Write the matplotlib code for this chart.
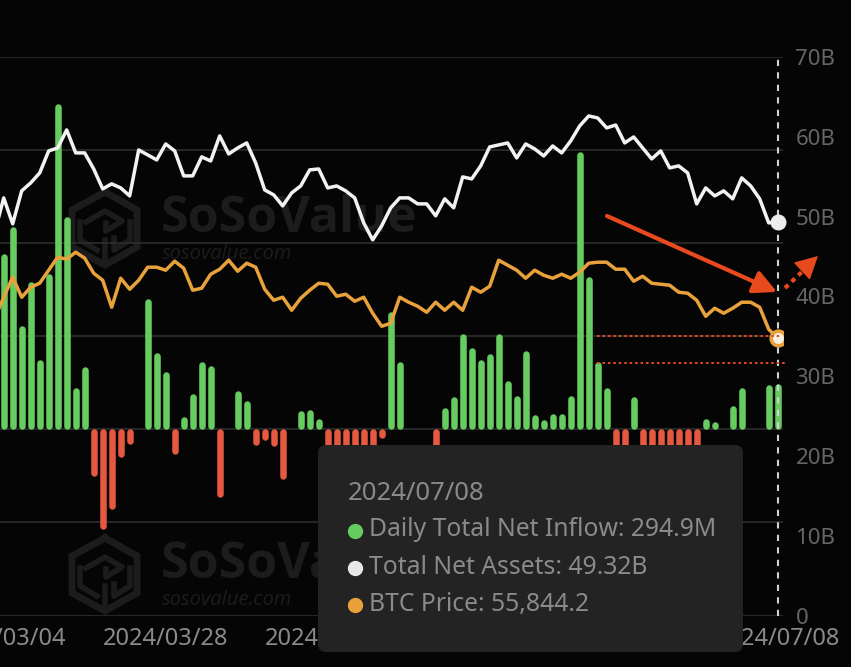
"""
Spot ETF flow chart: daily net inflow bars, total net assets and BTC price lines.
Saves the figure as out.png.
"""

import matplotlib

matplotlib.use("Agg")

import matplotlib.pyplot as plt
import numpy as np
from matplotlib.patches import FancyBboxPatch


# 1. Chart values

daily_inflow_m = [
    1129, 1303, 664, 948, 445, 1000, 2096, 1367, 264, 400,
    -303, -645, -516, -179, -97, 39, 838, 490, 368, -161,
    77, 226, 432, 406, -439, -32, 245, 181, -103, -71,
    -110, -323, -10, 116, 123, 65, -130, -130, -130, -130,
    -130, -130, -58, 755, 432, -22, 26, -16, -130, 135,
    206, 613, 522, 445, 484, 613, 310, 213, 503, 90,
    58, 97, 97, 213, 1787, 980, 432, 264, -130, -130,
    206, -130, -130, -130, -130, -130, -130, -130, 65, 45,
    26, 148, 264, -23, -32, 284, 294.9,
]

total_net_assets_b = [
    47.96, 52.34, 49.09, 53.22, 54.22, 55.47, 58.23, 58.60, 60.86, 57.98,
    57.98, 55.97, 53.47, 54.10, 53.59, 52.59, 58.35, 57.73, 57.10, 59.10,
    58.23, 55.10, 55.10, 57.48, 56.97, 60.11, 57.85, 58.60, 59.23, 56.72,
    53.34, 52.72, 51.34, 52.97, 53.84, 55.85, 55.97, 53.59, 53.84, 53.22,
    52.34, 49.21, 47.08, 48.84, 51.09, 52.34, 52.34, 51.59, 51.59, 50.09,
    52.22, 51.09, 54.97, 54.72, 56.35, 58.73, 58.98, 59.23, 57.35, 59.10,
    58.48, 57.60, 58.85, 57.98, 59.48, 61.36, 62.61, 62.36, 61.11, 61.48,
    59.23, 59.98, 58.60, 57.23, 58.23, 56.10, 56.35, 55.47, 51.59, 53.59,
    52.59, 53.22, 52.22, 54.85, 53.84, 52.22, 49.21, 49.32,
]

btc_price = [
    59875, 64109, 68141, 64109, 66125, 66931, 69552, 72173, 71770, 73181,
    71971, 68947, 67536, 62093, 67939, 65722, 67536, 70157, 70157, 69552,
    71366, 69955, 65520, 65923, 68746, 69754, 71568, 69350, 70963, 70157,
    65722, 63504, 64109, 61488, 63907, 65520, 66931, 66730, 64310, 64714,
    63302, 64109, 60883, 58262, 58867, 64109, 63101, 62294, 61085, 63101,
    61488, 63101, 61488, 66125, 65117, 66326, 71568, 70560, 69552, 67939,
    69552, 68544, 67939, 68746, 67939, 69149, 70963, 71165, 71165, 69754,
    69754, 67334, 68342, 66931, 66730, 66528, 65117, 64915, 63504, 60278,
    61891, 60883, 61891, 63101, 63101, 62093, 57658, 55844,
]

date_ticks = [0, 18, 36, 54, 72, 86]
date_labels = [
    "2024/03/04", "2024/03/28", "2024/04/23",
    "2024/05/17", "2024/06/12", "2024/07/08",
]

asset_ticks = [0, 10, 20, 30, 40, 50, 60, 70]
asset_labels = ["0", "10B", "20B", "30B", "40B", "50B", "60B", "70B"]
inflow_grid = [-1200, -600, 0, 600, 1200, 1800, 2400]

tooltip_date = "2024/07/08"
tooltip_rows = [
    "Daily Total Net Inflow: 294.9M",
    "Total Net Assets: 49.32B",
    "BTC Price: 55,844.2",
]


# 2. Colours and font

BACKGROUND = "#050505"
GRID = "#2d2d2d"
GREEN = "#67cc60"
RED = "#e4593f"
WHITE = "#f2f2f2"
ORANGE = "#e9a23b"
MARK = "#e8491d"
WATERMARK = "#1c1c1c"
TOOLTIP = "#232323"

plt.rcParams["font.family"] = ["Noto Sans", "DejaVu Sans"]

W, H = 851, 667
fig = plt.figure(figsize=(W / 100, H / 100), dpi=100, facecolor=BACKGROUND)
rect = [0, (H - 615.5) / H, 783 / W, 558.5 / H]


# 3. Watermark layer, in pixel coordinates

ax_bg = fig.add_axes([0, 0, 1, 1], zorder=0)
ax_bg.set_xlim(0, W)
ax_bg.set_ylim(H, 0)
ax_bg.axis("off")

hexagon = [(105, 192), (137, 210), (137, 247), (105, 265), (72, 247), (72, 210), (105, 192)]
logo_parts = [
    [(86, 222), (105, 211), (122, 221), (106, 231), (106, 223)],
    [(105, 240), (105, 262)],
    [(80, 222), (80, 240), (97, 250)],
    [(130, 222), (130, 240), (114, 250), (114, 238)],
]

for dy in [0, 346]:
    ax_bg.plot([p[0] for p in hexagon], [p[1] + dy for p in hexagon],
               color=WATERMARK, lw=5, solid_joinstyle="miter")
    for seg in logo_parts:
        ax_bg.plot([p[0] for p in seg], [p[1] + dy for p in seg], color=WATERMARK, lw=4)
    ax_bg.text(161, 219 + dy, "SoSoValue", color=WATERMARK, fontsize=36, fontweight="bold",
               family="Open Sans", ha="left", va="center")
    ax_bg.text(162, 254 + dy, "sosovalue.com", color=WATERMARK, fontsize=14.5, style="italic",
               family="Open Sans", ha="left", va="center")


# 4. Inflow bars and grid

days = np.arange(len(daily_inflow_m))
line_days = np.arange(-1, len(daily_inflow_m))
inflow = np.array(daily_inflow_m)

ax = fig.add_axes(rect, zorder=1)
ax.patch.set_visible(False)
ax.set_xlim(-0.41, 86.59)
ax.set_ylim(-1200, 2400)
for side in ax.spines.values():
    side.set_visible(False)
ax.set_yticks(inflow_grid)
ax.set_yticklabels([])
ax.tick_params(axis="y", length=0)
ax.grid(axis="y", color=GRID, lw=1.2)
ax.set_axisbelow(True)

ax.set_xticks(date_ticks)
ax.set_xticklabels(date_labels, fontsize=17, color="#8a8a8a")
ax.tick_params(axis="x", length=0, pad=8)

# the round caps add half a bar width at each end, so pull the ends in by that much
cap = 19
for values, color in [(inflow[inflow > 0], GREEN), (inflow[inflow < 0], RED)]:
    sign = np.sign(values)
    x = days[np.sign(inflow) == sign[0]]
    low = sign * np.minimum(cap, np.abs(values) / 2)
    high = values - sign * np.minimum(cap, np.abs(values) / 2)
    ax.vlines(x, low, high, color=color, lw=4.7, capstyle="round", zorder=3)


# 5. Total net assets, right axis

ax_assets = ax.twinx()
ax_assets.patch.set_visible(False)
ax_assets.set_ylim(0, 70)
for side in ax_assets.spines.values():
    side.set_visible(False)
ax_assets.set_yticks(asset_ticks)
ax_assets.set_yticklabels(asset_labels, fontsize=16, color="#666666")
ax_assets.tick_params(axis="y", length=0, pad=9)
ax_assets.axvline(days[-1], color="#cdd3da", lw=1.5, dashes=(3, 3), zorder=2)
ax_assets.plot(line_days, total_net_assets_b, color=WHITE, lw=2.5, zorder=4)
ax_assets.plot(days[-1], total_net_assets_b[-1], "o", color="#ececec", ms=10.5, zorder=6, clip_on=False)


# 6. BTC price, hidden axis

ax_btc = ax.twinx()
ax_btc.patch.set_visible(False)
ax_btc.set_ylim(0, 112500)
ax_btc.axis("off")
ax_btc.plot(line_days, btc_price, color=ORANGE, lw=2.5, zorder=4)
ax_btc.plot(days[-1], btc_price[-1], "o", mfc="#f5f0e6", mec=ORANGE, mew=2.6, ms=10.5, zorder=6)


# 7. Hand drawn marks and tooltip, in pixel coordinates

ax_top = fig.add_axes([0, 0, 1, 1], zorder=10)
ax_top.set_xlim(0, W)
ax_top.set_ylim(H, 0)
ax_top.axis("off")
ax_top.patch.set_visible(False)

for y, x_end in [(336, 780), (362.7, 785)]:
    ax_top.plot([597, x_end], [y, y], color=MARK, lw=1.4, dashes=(1.3, 1.5))

ax_top.annotate("", xy=(777, 292), xytext=(607, 216),
                arrowprops=dict(arrowstyle="-|>,head_length=1.0,head_width=0.5", color=MARK,
                                lw=3, shrinkA=0, shrinkB=0, mutation_scale=14))
ax_top.plot([785, 806], [288, 268], color=MARK, lw=3, dashes=(1.1, 1.1))
ax_top.annotate("", xy=(818, 256), xytext=(803, 270),
                arrowprops=dict(arrowstyle="-|>,head_length=0.85,head_width=0.45", color=MARK,
                                lw=1, shrinkA=0, shrinkB=0, mutation_scale=17))

ax_top.add_patch(FancyBboxPatch((326, 453), 409, 191, boxstyle="round,pad=8,rounding_size=8",
                                fc=TOOLTIP, ec="none"))
ax_top.text(348, 493, tooltip_date, color="#8a8a8a", fontsize=18.5, ha="left", va="center")
for y, label, color in zip([531, 568, 605], tooltip_rows, [GREEN, "#e8e8e8", ORANGE]):
    ax_top.plot(354.5, y, "o", color=color, ms=10)
    ax_top.text(369, y - 1, label, color="#8a8a8a", fontsize=17.8, ha="left", va="center")

fig.savefig("out.png", dpi=100, facecolor=BACKGROUND)
